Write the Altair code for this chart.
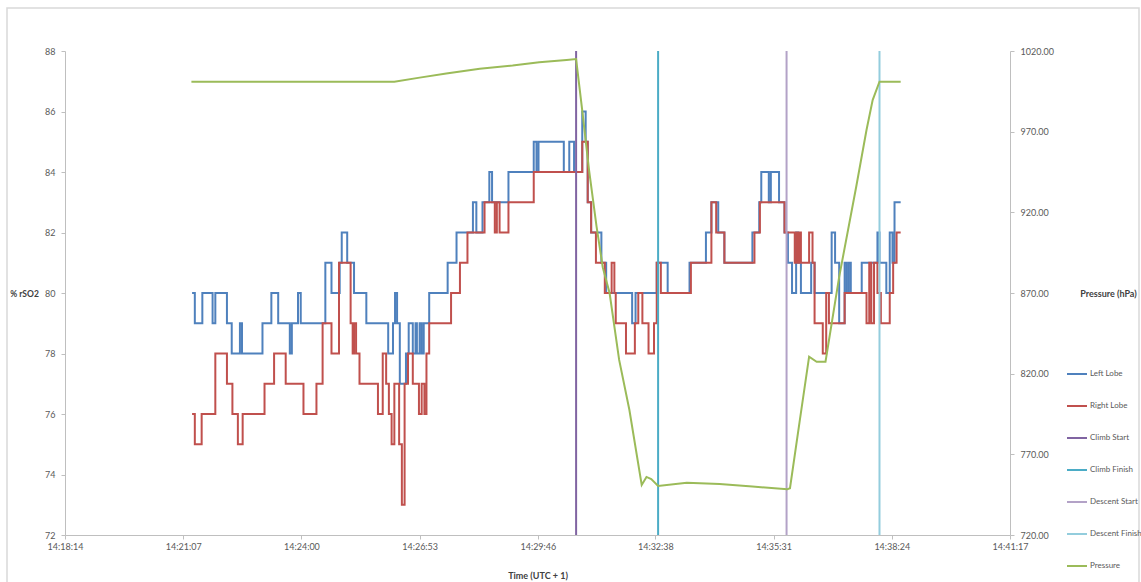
import altair as alt
import pandas as pd

# ---------------- data (elapsed seconds since 14:18:14) ----------------
TICK_LABELS = ["14:18:14", "14:21:07", "14:24:00", "14:26:53", "14:29:46",
               "14:32:38", "14:35:31", "14:38:24", "14:41:17"]

SERIES = ["Left Lobe", "Right Lobe", "Climb Start", "Climb Finish",
          "Descent Start", "Descent Finish", "Pressure"]
COLORS = ["#4F81BD", "#C0504D", "#8064A2", "#4BACC6",
          "#B3A2C7", "#93CDDD", "#9BBB59"]

LEFT_T = [186, 190, 201, 216, 220, 237, 244, 256, 259, 289, 302, 312, 329, 332, 341,
          345, 381, 390, 402, 405, 413, 423, 441, 473, 480, 483, 486, 490, 499, 503,
          509, 513, 515, 519, 522, 525, 533, 560, 573, 597, 602, 611, 621, 625, 649,
          686, 690, 693, 730, 738, 745, 757, 762, 765, 770, 785, 792, 830, 835, 866,
          882, 914, 938, 946, 956, 965, 1006, 1016, 1019, 1030, 1033, 1045, 1053, 1058, 1064,
          1070, 1073, 1077, 1092, 1097, 1122, 1127, 1133, 1141, 1144, 1147, 1150, 1166, 1189, 1192,
          1202, 1207, 1211, 1214, 1223]
LEFT_V = [80, 79, 80, 79, 80, 79, 78, 79, 78, 79, 80, 79, 78, 79, 80,
          79, 81, 80, 81, 82, 81, 80, 79, 78, 79, 80, 79, 77, 78, 79,
          78, 79, 78, 79, 78, 79, 80, 81, 82, 83, 82, 83, 84, 83, 84,
          85, 84, 85, 84, 85, 84, 86, 85, 83, 82, 81, 80, 79, 80, 81,
          80, 81, 82, 83, 82, 81, 82, 83, 84, 83, 84, 83, 82, 81, 80,
          82, 81, 80, 81, 80, 82, 81, 79, 81, 80, 81, 80, 81, 82, 81,
          80, 82, 81, 83, 83]

RIGHT_T = [186, 190, 200, 220, 237, 245, 253, 260, 292, 306, 323, 349, 368, 377, 390,
           401, 418, 421, 423, 426, 431, 458, 465, 470, 474, 478, 482, 489, 493, 497,
           502, 509, 518, 522, 526, 529, 533, 565, 578, 589, 614, 629, 632, 636, 649,
           686, 757, 765, 770, 777, 790, 800, 804, 806, 821, 834, 839, 845, 854, 862,
           866, 872, 916, 946, 953, 965, 1009, 1017, 1053, 1068, 1071, 1073, 1075, 1077, 1089,
           1094, 1097, 1109, 1114, 1118, 1141, 1173, 1177, 1180, 1184, 1189, 1194, 1207, 1212, 1217,
           1223]
RIGHT_V = [76, 75, 76, 78, 77, 76, 75, 76, 77, 78, 77, 76, 77, 79, 78,
           81, 79, 78, 79, 78, 77, 76, 78, 77, 76, 75, 77, 75, 73, 77,
           78, 77, 76, 77, 76, 78, 79, 80, 81, 82, 83, 82, 83, 82, 83,
           84, 85, 83, 82, 81, 80, 81, 80, 79, 78, 79, 80, 79, 78, 79,
           81, 80, 81, 83, 82, 81, 82, 83, 82, 81, 82, 81, 82, 81, 82,
           81, 79, 78, 80, 79, 80, 79, 81, 79, 81, 80, 79, 80, 81, 82,
           82]

PRES_T = [185, 482, 519, 558, 607, 655, 694, 734, 748, 757, 767, 778, 787, 797, 811,
          826, 844, 851, 858, 868, 910, 958, 1006, 1057, 1061, 1075, 1089, 1100, 1113, 1133,
          1158, 1173, 1182, 1192, 1223]
PRES_V = [1001, 1001, 1003.5, 1006, 1009, 1011, 1013, 1014.4, 1015, 983, 946, 911, 886, 870, 828.5,
          797.5, 751, 756, 754.7, 750.4, 752.4, 751.6, 750, 748.3, 749, 790, 830.5, 827.4, 827.4, 880,
          936, 971, 989.6, 1001, 1001]

EVENT_NAMES = ["Climb Start", "Climb Finish", "Descent Start", "Descent Finish"]
EVENT_T = [748, 868, 1056, 1192]

LEFT_TICKS = [72, 74, 76, 78, 80, 82, 84, 86, 88]
RIGHT_TICKS = [720, 770, 820, 870, 920, 970, 1020]


def to_sec(s):
    h, m, sec = [int(p) for p in s.split(":")]
    return h * 3600 + m * 60 + sec


BASE = to_sec(TICK_LABELS[0])
TICK_SEC = [to_sec(s) - BASE for s in TICK_LABELS]

df_lobes = pd.concat([
    pd.DataFrame({"t": LEFT_T, "v": LEFT_V, "series": "Left Lobe"}),
    pd.DataFrame({"t": RIGHT_T, "v": RIGHT_V, "series": "Right Lobe"}),
])
df_press = pd.DataFrame({"t": PRES_T, "p": PRES_V, "series": "Pressure"})
df_events = pd.DataFrame({"t": EVENT_T, "series": EVENT_NAMES})

FONT = "Lato"
LABEL_COLOR = "#595959"
AXIS_COLOR = "#BFBFBF"

x_enc = alt.X(
    "t:Q",
    scale=alt.Scale(domain=[TICK_SEC[0], TICK_SEC[-1]], nice=False, zero=False),
    axis=alt.Axis(
        values=TICK_SEC,
        labelExpr=f"utcFormat((datum.value + {BASE}) * 1000, '%H:%M:%S')",
        title="Time (UTC + 1)",
        titleY=40, titleBaseline="middle",
        grid=False, tickSize=4, labelPadding=3, labelOverlap=False, labelFlush=False,
    ),
)

color_enc = alt.Color(
    "series:N",
    scale=alt.Scale(domain=SERIES, range=COLORS),
    legend=alt.Legend(
        orient="none", legendX=1001, legendY=312, title=None,
        symbolType="stroke", symbolSize=400, symbolStrokeWidth=2,
        labelFontSize=8, labelColor=LABEL_COLOR, labelFont=FONT,
        rowPadding=17, labelOffset=2, padding=0, labelLimit=60,
    ),
)

lobes = alt.Chart(df_lobes).mark_line(interpolate="step-after", strokeWidth=2).encode(
    x=x_enc,
    y=alt.Y("v:Q", scale=alt.Scale(domain=[72, 88], nice=False, zero=False),
            axis=alt.Axis(values=LEFT_TICKS, format="d", title="% rSO2", grid=False,
                          titleAngle=0, titleX=-41, titleY=242, titleAlign="center",
                          titleBaseline="middle", titleFontSize=8.5, tickSize=4,
                          labelPadding=6)),
    color=color_enc,
)

events = alt.Chart(df_events).mark_rule(strokeWidth=2).encode(
    x=x_enc,
    color=color_enc,
)

pressure = alt.Chart(df_press).mark_line(strokeWidth=2).encode(
    x=x_enc,
    y=alt.Y("p:Q", scale=alt.Scale(domain=[720, 1020], nice=False, zero=False),
            axis=alt.Axis(values=RIGHT_TICKS, format=".2f", title="Pressure (hPa)",
                          orient="right", grid=False, titleAngle=0, titleX=98, titleY=242,
                          titleAlign="center", titleBaseline="middle", tickSize=4,
                          labelPadding=6)),
    color=color_enc,
)

border = alt.Chart(pd.DataFrame({"k": [0]})).mark_rect(
    fill=None, stroke="#D9D9D9", strokeWidth=1.5
).encode(
    x=alt.value(-58), x2=alt.value(1074), y=alt.value(-43), y2=alt.value(560)
)

chart = alt.layer(border, lobes, events, pressure).resolve_scale(
    y="independent"
).properties(
    width=945, height=484,
    autosize=alt.AutoSizeParams(type="none"),
    padding={"left": 65, "top": 51, "right": 131, "bottom": 47},
    background="white",
).configure_view(
    stroke=None
).configure_axis(
    labelFont=FONT, labelFontSize=9, labelColor=LABEL_COLOR,
    titleFont=FONT, titleFontSize=9, titleColor="#404040", titleFontWeight="bold",
    domainColor=AXIS_COLOR, tickColor=AXIS_COLOR,
)

chart.save("out.html", embed_options={"renderer": "svg", "actions": False})
